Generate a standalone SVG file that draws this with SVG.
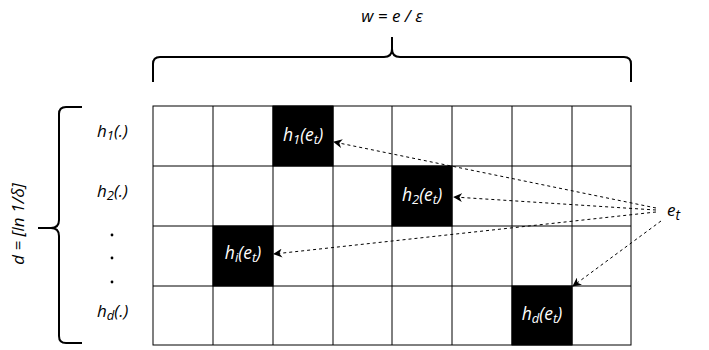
<svg xmlns="http://www.w3.org/2000/svg" width="709" height="350" viewBox="0 0 709 350">
<defs>
<marker id="ah" viewBox="0 0 10 10" refX="9" refY="5" markerWidth="9" markerHeight="9" markerUnits="userSpaceOnUse" orient="auto">
<path d="M0,0 L10,5 L0,10 L3,5 Z" fill="#000"/>
</marker>
</defs>
<style>
.t{font-family:"Open Sans","DejaVu Sans",sans-serif;font-style:italic;font-size:17px;fill:#000}
.w{fill:#fff;font-size:17.5px}
.s{font-size:13px}
.cell{fill:#fff;stroke:#000;stroke-width:1}
.blk{fill:#000;stroke:#000;stroke-width:1}
.br{fill:none;stroke:#000;stroke-width:2}
.ar{fill:none;stroke:#000;stroke-width:1;stroke-dasharray:3,3;marker-end:url(#ah)}
</style>
<rect width="709" height="350" fill="#fff"/>
<g id="grid">
<rect x="153" y="106" width="478" height="239" class="cell"/>
<path d="M213,106V345M273,106V345M333,106V345M392,106V345M452,106V345M512,106V345M572,106V345M153,166H631M153,226H631M153,286H631" stroke="#000" stroke-width="1" fill="none"/>
</g>
<g id="cell-h1"><rect x="273" y="106" width="60" height="60" class="blk"/><text x="303" y="141" text-anchor="middle" class="t w">h<tspan class="s" dy="3">1</tspan><tspan dy="-3">(e</tspan><tspan class="s" dy="3">t</tspan><tspan dy="-3">)</tspan></text></g>
<g id="cell-h2"><rect x="392" y="166" width="60" height="60" class="blk"/><text x="422" y="201" text-anchor="middle" class="t w">h<tspan class="s" dy="3">2</tspan><tspan dy="-3">(e</tspan><tspan class="s" dy="3">t</tspan><tspan dy="-3">)</tspan></text></g>
<g id="cell-hi"><rect x="213" y="226" width="60" height="60" class="blk"/><text x="243" y="259" text-anchor="middle" class="t w">h<tspan class="s" dy="3">i</tspan><tspan dy="-3">(e</tspan><tspan class="s" dy="3">t</tspan><tspan dy="-3">)</tspan></text></g>
<g id="cell-hd"><rect x="512" y="286" width="60" height="59" class="blk"/><text x="542" y="320" text-anchor="middle" class="t w">h<tspan class="s" dy="3">d</tspan><tspan dy="-3">(e</tspan><tspan class="s" dy="3">t</tspan><tspan dy="-3">)</tspan></text></g>
<g id="row-labels">
<text x="97" y="137" class="t">h<tspan class="s" dy="3">1</tspan><tspan dy="-3">(.)</tspan></text>
<text x="97" y="197" class="t">h<tspan class="s" dy="3">2</tspan><tspan dy="-3">(.)</tspan></text>
<circle cx="112" cy="235" r="1.4" fill="#000"/>
<circle cx="112" cy="258" r="1.4" fill="#000"/>
<circle cx="112" cy="282" r="1.4" fill="#000"/>
<text x="97" y="317" class="t">h<tspan class="s" dy="3">d</tspan><tspan dy="-3">(.)</tspan></text>
</g>
<g id="top-brace">
<path class="br" d="M153,82 V64 Q153,57 160,57 H384 Q392,57 392,49 V37 M392,49 Q392,57 400,57 H624 Q631,57 631,64 V82"/>
<text x="392" y="22" text-anchor="middle" class="t" font-size="18">w = e / ε</text>
</g>
<g id="left-brace">
<path class="br" d="M82,107 H66 Q59,107 59,114 V220 Q59,228 51,228 H38 M51,228 Q59,228 59,236 V336 Q59,343 66,343 H82"/>
<text transform="translate(24,224) rotate(-90)" text-anchor="middle" class="t" font-size="18">d = [ln 1/δ]</text>
</g>
<g id="et"><text x="667" y="216" class="t" font-size="19">e<tspan font-size="14" dy="4">t</tspan></text></g>
<g id="connectors">
<path class="ar" d="M656,208 L334,142"/>
<path class="ar" d="M656,210 L454,197"/>
<path class="ar" d="M656,212 L274,254"/>
<path class="ar" d="M661,221 L573,286"/>
</g>
</svg>
